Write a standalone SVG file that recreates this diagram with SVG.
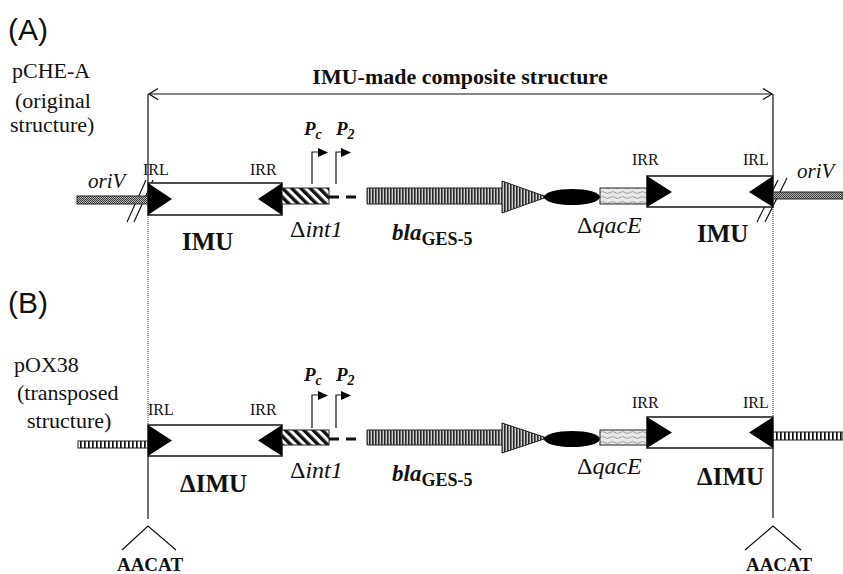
<svg xmlns="http://www.w3.org/2000/svg" width="843" height="574" viewBox="0 0 843 574">
  <defs>
    <!-- fine stippled fill for the oriV backbone -->
    <pattern id="dotFill" width="2" height="2" patternUnits="userSpaceOnUse">
      <rect width="2" height="2" fill="#b5b5b5"/>
      <rect width="1" height="1" fill="#3a3a3a"/>
      <rect x="1" y="1" width="1" height="1" fill="#3a3a3a"/>
    </pattern>
    <!-- bold diagonal hatching for the truncated integrase -->
    <pattern id="diagFill" width="6.5" height="6.5" patternUnits="userSpaceOnUse" patternTransform="rotate(-45)">
      <rect width="6.5" height="6.5" fill="#fff"/>
      <rect width="3.4" height="6.5" fill="#111"/>
    </pattern>
    <!-- dense vertical stripes for the bla gene -->
    <pattern id="vStripe" width="3" height="10" patternUnits="userSpaceOnUse">
      <rect width="3" height="10" fill="#cfcfcf"/>
      <rect width="1.6" height="10" fill="#2a2a2a"/>
    </pattern>
    <!-- wavy light fill for qacE -->
    <pattern id="waveFill" width="10" height="5" patternUnits="userSpaceOnUse">
      <rect width="10" height="5" fill="#e8e8e8"/>
      <path d="M0 2.5 Q2.5 0.6 5 2.5 T10 2.5" fill="none" stroke="#8a8a8a" stroke-width="0.8"/>
    </pattern>
    <!-- ladder-like stripes for the pOX38 backbone -->
    <pattern id="ladderFill" width="4" height="10" patternUnits="userSpaceOnUse">
      <rect width="4" height="10" fill="#fff"/>
      <rect width="1.7" height="10" fill="#111"/>
    </pattern>
    <marker id="chevron" markerUnits="userSpaceOnUse" markerWidth="12" markerHeight="14" refX="10" refY="6" orient="auto-start-reverse">
      <path d="M1,0.5 L10,6 L1,11.5" fill="none" stroke="#111" stroke-width="1.3"/>
    </marker>
  </defs>

  <style>
    .serif { font-family: "Liberation Serif", "Times New Roman", serif; fill: #111; }
    .sans { font-family: "Liberation Sans", Arial, sans-serif; fill: #111; }
    .ir { font-size: 16px; }
    .side { font-size: 22px; }
    .name { font-size: 25px; font-weight: bold; }
    .gene { font-size: 24px; }
    .prom { font-size: 19px; font-weight: bold; font-style: italic; }
    .box { fill: #fff; stroke: #222; stroke-width: 1.6; }
    .tri { fill: #000; }
    .edge { stroke: #222; stroke-width: 1; }
    .line { fill: none; stroke: #111; stroke-width: 1.2; }
    .dotted { fill: none; stroke: #444; stroke-width: 1.1; stroke-dasharray: 1 1; }
    .dash { stroke: #111; stroke-width: 3; stroke-dasharray: 10 7; }
  </style>

  <!-- panel captions -->
  <g id="captions">
    <text class="sans" x="8" y="40" font-size="30">(A)</text>
    <text class="serif side" x="12" y="78">pCHE-A</text>
    <text class="serif side" x="15" y="108">(original</text>
    <text class="serif side" x="10" y="132">structure)</text>
    <text class="sans" x="8" y="313" font-size="30">(B)</text>
    <text class="serif side" x="14" y="372">pOX38</text>
    <text class="serif side" x="17" y="400">(transposed</text>
    <text class="serif side" x="27" y="428">structure)</text>
    <text class="serif" x="460" y="84" font-size="22" font-weight="bold" text-anchor="middle">IMU-made composite structure</text>
  </g>

  <!-- span arrow, boundary lines and target-site carets -->
  <g id="connectors">
    <line class="line" x1="149" y1="94" x2="772" y2="94" marker-start="url(#chevron)" marker-end="url(#chevron)"/>
    <path class="line" d="M148,94 V183 M148,456 V519"/>
    <path class="dotted" d="M148,215 V425"/>
    <path class="line" d="M773,94 V176 M773,448 V518"/>
    <path class="dotted" d="M773,207 V417"/>
    <path class="line" d="M122,550 L148,526 L176,550"/>
    <path class="line" d="M745,550 L773,526 L801,550"/>
    <!-- break marks on the plasmid backbone -->
    <path class="line" d="M127,222 L146,180 M134,222 L153,180"/>
    <path class="line" d="M757,222 L778,180 M765,222 L787,178"/>
  </g>

  <!-- (A) pCHE-A -->
  <g id="oriV-left-A">
    <rect x="77" y="196" width="71" height="8" fill="url(#dotFill)" class="edge"/>
    <text class="serif" x="88" y="188" font-size="21" font-style="italic">oriV</text>
  </g>
  <g id="IMU-left-A">
    <rect class="box" x="148" y="183" width="134" height="32"/>
    <polygon class="tri" points="148,183 172,199 148,215"/>
    <polygon class="tri" points="282,183 258,199 282,215"/>
    <text class="serif ir" x="143" y="175">IRL</text>
    <text class="serif ir" x="250" y="175">IRR</text>
    <text class="serif name" x="182" y="250">IMU</text>
  </g>
  <g id="int1-A">
    <rect x="282" y="188" width="47" height="16" fill="url(#diagFill)" class="edge"/>
    <line class="dash" x1="329" y1="197" x2="358" y2="197"/>
    <text class="serif gene" x="290" y="237">Δ<tspan font-style="italic">int1</tspan></text>
  </g>
  <g id="promoters-A">
    <path class="line" d="M312,184 V152 H319 M336,184 V152 H342"/>
    <polygon class="tri" points="318,148 328,152.5 318,157"/>
    <polygon class="tri" points="341,148 351,152.5 341,157"/>
    <text class="serif prom" x="304" y="135">P<tspan font-size="14" dy="4">c</tspan></text>
    <text class="serif prom" x="336" y="135">P<tspan font-size="14" dy="4">2</tspan></text>
  </g>
  <g id="bla-A">
    <path d="M367,188 H502 V181 L547,197 L502,213 V204 H367 Z" fill="url(#vStripe)" class="edge"/>
    <text class="serif" x="392" y="240" font-size="23" font-weight="bold" font-style="italic">bla<tspan font-size="18" font-style="normal" dy="5">GES-5</tspan></text>
  </g>
  <g id="qacE-A">
    <ellipse cx="572" cy="197" rx="28" ry="8" fill="#000"/>
    <rect x="600" y="188" width="47" height="16" fill="url(#waveFill)" class="edge"/>
    <text class="serif gene" x="577" y="233">Δ<tspan font-style="italic">qacE</tspan></text>
  </g>
  <g id="IMU-right-A">
    <rect class="box" x="647" y="176" width="126" height="31"/>
    <polygon class="tri" points="647,176 672,192 647,207"/>
    <polygon class="tri" points="773,176 749,192 773,207"/>
    <text class="serif ir" x="632" y="165">IRR</text>
    <text class="serif ir" x="743" y="165">IRL</text>
    <text class="serif name" x="697" y="242">IMU</text>
  </g>
  <g id="oriV-right-A">
    <rect x="773" y="192" width="70" height="7" fill="url(#dotFill)" class="edge"/>
    <text class="serif" x="797" y="178" font-size="21" font-style="italic">oriV</text>
  </g>

  <!-- (B) pOX38 -->
  <g id="backbone-left-B">
    <rect x="78" y="441" width="70" height="7" fill="url(#ladderFill)" class="edge"/>
  </g>
  <g id="IMU-left-B">
    <rect class="box" x="148" y="425" width="134" height="31"/>
    <polygon class="tri" points="148,425 172,440.5 148,456"/>
    <polygon class="tri" points="282,425 258,440.5 282,456"/>
    <text class="serif ir" x="148" y="415">IRL</text>
    <text class="serif ir" x="250" y="415">IRR</text>
    <text class="serif name" x="180" y="492">ΔIMU</text>
  </g>
  <g id="int1-B">
    <rect x="282" y="430" width="47" height="15" fill="url(#diagFill)" class="edge"/>
    <line class="dash" x1="329" y1="439" x2="358" y2="439"/>
    <text class="serif gene" x="290" y="478">Δ<tspan font-style="italic">int1</tspan></text>
  </g>
  <g id="promoters-B">
    <path class="line" d="M312,428 V395 H319 M336,428 V395 H342"/>
    <polygon class="tri" points="318,391 328,395.5 318,400"/>
    <polygon class="tri" points="341,391 351,395.5 341,400"/>
    <text class="serif prom" x="304" y="381">P<tspan font-size="14" dy="4">c</tspan></text>
    <text class="serif prom" x="336" y="381">P<tspan font-size="14" dy="4">2</tspan></text>
  </g>
  <g id="bla-B">
    <path d="M367,430 H502 V423 L547,438 L502,453 V445 H367 Z" fill="url(#vStripe)" class="edge"/>
    <text class="serif" x="392" y="481" font-size="23" font-weight="bold" font-style="italic">bla<tspan font-size="18" font-style="normal" dy="5">GES-5</tspan></text>
  </g>
  <g id="qacE-B">
    <ellipse cx="572" cy="439" rx="28" ry="8" fill="#000"/>
    <rect x="600" y="430" width="47" height="15" fill="url(#waveFill)" class="edge"/>
    <text class="serif gene" x="577" y="474">Δ<tspan font-style="italic">qacE</tspan></text>
  </g>
  <g id="IMU-right-B">
    <rect class="box" x="647" y="417" width="126" height="31"/>
    <polygon class="tri" points="647,417 672,432.5 647,448"/>
    <polygon class="tri" points="773,417 749,432.5 773,448"/>
    <text class="serif ir" x="632" y="408">IRR</text>
    <text class="serif ir" x="743" y="408">IRL</text>
    <text class="serif name" x="697" y="485">ΔIMU</text>
  </g>
  <g id="backbone-right-B">
    <rect x="773" y="432" width="70" height="8" fill="url(#ladderFill)" class="edge"/>
  </g>

  <!-- target-site duplication -->
  <g id="target-sites">
    <text class="serif" x="150" y="571" font-size="19" font-weight="bold" text-anchor="middle">AACAT</text>
    <text class="serif" x="779" y="571" font-size="19" font-weight="bold" text-anchor="middle">AACAT</text>
  </g>
</svg>
